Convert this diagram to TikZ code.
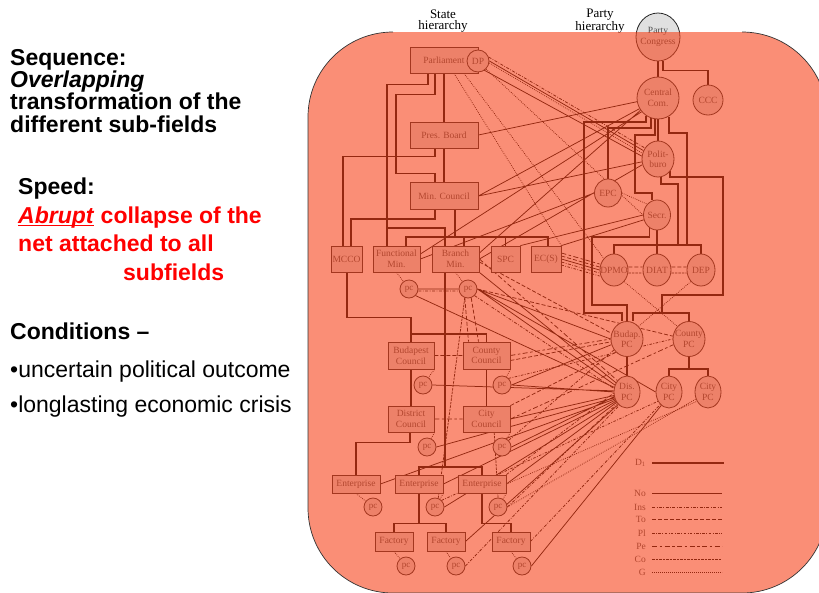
\documentclass[tikz,border=0pt]{standalone}
\usepackage{fontspec}
\setmainfont{Liberation Serif}
\setsansfont{Liberation Sans}
\usetikzlibrary{shapes.geometric,backgrounds}

\definecolor{salmon}{RGB}{247,67,27}
\definecolor{slidered}{RGB}{255,0,0}
\newcommand{\ulword}[1]{\setbox0\hbox{#1}\rlap{\color{slidered}\rule[-2.6pt]{\wd0}{1.1pt}}\box0\relax}

\tikzset{
  sbox/.style={draw=black!85, fill=black!12, line width=0.8pt, inner sep=0pt, font=\fontsize{9.5}{10.5}\selectfont, text=black!70, align=center},
  pnode/.style 2 args={ellipse, draw=black!85, fill=black!12, line width=0.8pt, inner sep=0pt, minimum width=#1, minimum height=#2},
  ptxt/.style={font=\fontsize{9.5}{10.5}\selectfont, text=black!70, align=center, inner sep=0pt},
  pcnode/.style={circle, draw=black!85, fill=black!12, line width=0.8pt, inner sep=0pt, minimum size=18pt, font=\fontsize{9}{9}\selectfont, text=black!70},
  tie/.style={line width=1.8pt, black},
  lno/.style={line width=0.75pt, black},
  lins/.style={line width=0.75pt, black, dash pattern=on 3pt off 1.5pt on 0.8pt off 1.5pt},
  lto/.style={line width=0.75pt, black, dash pattern=on 4pt off 2pt},
  lpl/.style={line width=0.75pt, black, dash pattern=on 2.5pt off 1.5pt on 0.8pt off 1.5pt},
  lpe/.style={line width=0.75pt, black, dash pattern=on 5pt off 2.5pt on 2.5pt off 2.5pt},
  lco/.style={line width=0.75pt, black, dash pattern=on 2.5pt off 1pt},
  lg/.style={line width=0.75pt, black, dash pattern=on 0.8pt off 1.2pt},
  lgd/.style={font=\fontsize{9.5}{10}\selectfont, text=black!70, anchor=east, inner sep=0pt},
  head/.style={font=\fontsize{13}{11.5}\selectfont, align=center, inner sep=0pt},
  slide/.style={anchor=base west, inner sep=0pt, align=left},
}

\begin{document}
\begin{tikzpicture}[x=1pt,y=-1pt]
\useasboundingbox (0,0) rectangle (819,592);

\node[slide, font=\sffamily\bfseries\fontsize{23}{22.3}\selectfont] (seq) at (10,132) {Sequence:\\\textit{Overlapping}\\transformation of the\\different sub-fields};
\node[slide, font=\sffamily\bfseries\fontsize{23}{28.5}\selectfont] (speed) at (18,280) {Speed:\\\textcolor{slidered}{\ulword{\textit{Abrupt}} collapse of the}\\\textcolor{slidered}{net attached to all}\\\hspace*{105pt}\textcolor{slidered}{subfields}};
\node[slide, font=\sffamily\bfseries\fontsize{23}{23}\selectfont] (cond) at (10,339) {Conditions --};
\node[slide, font=\sffamily\fontsize{23}{35}\selectfont] (bul) at (10,412) {•uncertain political outcome\\•longlasting economic crisis};

\node[head] (shead) at (443,21) {State\\hierarchy};
\node[head] (phead) at (600,21) {Party\\hierarchy};

\node[sbox, minimum width=68pt, minimum height=26pt] (parl) at (444,60) {Parliament};
\node[pcnode, minimum size=22pt, font=\fontsize{9.5}{9.5}\selectfont] (dp) at (478,61) {DP};
\node[sbox, minimum width=68pt, minimum height=26pt] (pres) at (444,135) {Pres. Board};
\node[sbox, minimum width=68pt, minimum height=27pt] (minc) at (444,196) {Min. Council};
\node[sbox, minimum width=31pt, minimum height=26pt] (mcco) at (346.5,259) {MCCO};
\node[sbox, minimum width=47pt, minimum height=26pt] (funcmin) at (396.5,259) {Functional\\Min.};
\node[sbox, minimum width=47pt, minimum height=26pt] (branchmin) at (455.5,259) {Branch\\Min.};
\node[sbox, minimum width=29pt, minimum height=26pt] (spc) at (505.5,259) {SPC};
\node[sbox, minimum width=30pt, minimum height=26pt] (ecs) at (546,259) {EC(S)};
\node[pcnode] (pcfunc) at (409,289) {pc};
\node[pcnode] (pcbranch) at (468,289) {pc};
\node[sbox, minimum width=46pt, minimum height=27pt] (budc) at (411,355.5) {Budapest\\Council};
\node[sbox, minimum width=47pt, minimum height=27pt] (countyc) at (486.5,355.5) {County\\Council};
\node[pcnode] (pcbud) at (423,385) {pc};
\node[pcnode] (pccounty) at (502,385) {pc};
\node[sbox, minimum width=46pt, minimum height=26pt] (distc) at (411,419) {District\\Council};
\node[sbox, minimum width=47pt, minimum height=26pt] (cityc) at (486.5,419) {City\\Council};
\node[pcnode] (pcdist) at (427,447) {pc};
\node[pcnode] (pccity) at (502,447) {pc};
\node[sbox, minimum width=48pt, minimum height=18pt] (ent1) at (356,484) {Enterprise};
\node[sbox, minimum width=48pt, minimum height=18pt] (ent2) at (419,484) {Enterprise};
\node[sbox, minimum width=48pt, minimum height=18pt] (ent3) at (482,484) {Enterprise};
\node[pcnode] (pcent1) at (373,507) {pc};
\node[pcnode] (pcent2) at (435,507) {pc};
\node[pcnode] (pcent3) at (498,507) {pc};
\node[sbox, minimum width=38pt, minimum height=19pt] (fac1) at (394,541.5) {Factory};
\node[sbox, minimum width=38pt, minimum height=19pt] (fac2) at (446,541.5) {Factory};
\node[sbox, minimum width=38pt, minimum height=19pt] (fac3) at (511,541.5) {Factory};
\node[pcnode] (pcfac1) at (406,566) {pc};
\node[pcnode] (pcfac2) at (456,566) {pc};
\node[pcnode] (pcfac3) at (522,566) {pc};

\node[pnode={44pt}{48pt}, label={[ptxt]center:{Party\\Congress}}] (congress) at (658,37) {};
\node[pnode={42pt}{42pt}, label={[ptxt]center:{Central\\Com.}}] (centcom) at (658,98) {};
\node[pnode={30pt}{30pt}, label={[ptxt]center:CCC}] (ccc) at (708,100) {};
\node[pnode={32pt}{36pt}, label={[ptxt]center:{Polit-\\buro}}] (polit) at (658,159) {};
\node[pnode={27pt}{28pt}, label={[ptxt]center:EPC}] (epc) at (608,193) {};
\node[pnode={27pt}{30pt}, label={[ptxt]center:Secr.}] (secr) at (657,215) {};
\node[pnode={28pt}{32pt}, label={[ptxt]center:DPMO}] (dpmo) at (614,270) {};
\node[pnode={28pt}{32pt}, label={[ptxt]center:DIAT}] (diat) at (657,270) {};
\node[pnode={28pt}{32pt}, label={[ptxt]center:DEP}] (dep) at (701,270) {};
\node[pnode={32pt}{35pt}, label={[ptxt]center:{Budap.\\PC}}] (budpc) at (627,339) {};
\node[pnode={32pt}{35pt}, label={[ptxt]center:{County\\PC}}] (countypc) at (689,339) {};
\node[pnode={26pt}{32pt}, label={[ptxt]center:{Dis.\\PC}}] (dispc) at (627,392) {};
\node[pnode={26pt}{32pt}, label={[ptxt]center:{City\\PC}}] (citypc1) at (669,392) {};
\node[pnode={26pt}{32pt}, label={[ptxt]center:{City\\PC}}] (citypc2) at (708,392) {};

\coordinate (sj1) at (387,228);
\coordinate (sj2) at (445,467);
\coordinate (sj4) at (445,334);
\coordinate (dj) at (657,245);
\coordinate (pj) at (662,313);

\begin{scope}[on background layer]
\draw[tie] ([xshift=-16pt]parl.south) -- ++(0,11) -| ([xshift=-9.5pt]funcmin.north);
\draw[tie] ([xshift=-9pt]parl.south) -- ++(0,21) -- ++(-39,0) -- ++(0,79) -| ([xshift=-9pt]minc.north);
\draw[tie] (parl.south) -- (pres.north) (pres.south) -- (minc.north);
\draw[tie] ([xshift=-9pt]pres.south) -- ++(0,8) -| ([xshift=-3.5pt]mcco.north);
\draw[tie] ([xshift=-9pt]minc.south) -- ++(0,9) -| ([xshift=4.5pt]mcco.north);
\draw[tie] ([xshift=11pt]minc.south) -- ++(0,27) coordinate (mj)
  (mj) -| ([xshift=9.5pt]funcmin.north) (mj) -| ([xshift=8.5pt]branchmin.north)
  (mj) -| (spc.north) (mj) -| ([xshift=2pt]ecs.north);
\draw[tie] (sj1) -| (sj2) (ent2.north) |- (sj2) -| (ent3.north);
\draw[tie] ([xshift=0.5pt]mcco.south) -- ++(0,45) -| (budc.north);
\draw[tie] (budc.north) |- (sj4) -| (countyc.north);
\draw[tie] (budc.south) -- (distc.north) (countyc.south) -- (cityc.north);
\draw[tie] ([xshift=-1pt]distc.south) -- ++(0,10) -| (ent1.north);
\draw[tie] (ent2.south) -- ++(0,30) coordinate (ej) (fac1.north) |- (ej) -| (fac2.north);
\draw[tie] (ent3.south) -- ++(0,30) -| (fac3.north);

\draw[tie] (congress.south) -- (centcom.north);
\draw[tie] ([xshift=5pt]congress.south) -- ++(0,9) -| (ccc.north);
\draw[tie] (centcom.235) |- (584,122) -- (584,313) -| ([xshift=-5pt]budpc.north);
\draw[tie] (centcom.250) |- (608,128) -- (epc.north);
\draw[tie] (centcom.262) |- (635,135) -- (635,193) -| ([xshift=-5pt]secr.north);
\draw[tie] (centcom.south) -- (polit.north);
\draw[tie] (centcom.300) |- (687,133) -- (687,245);
\draw[tie] (polit.280) |- (678,184) -- (678,245);
\draw[tie] (polit.315) |- (723,177) -- (723,295) -| (pj) ([xshift=6pt]budpc.north) |- (pj) -| (countypc.north);
\draw[tie] (secr.south) -- (dj) (dpmo.north) |- (dj) -| (dep.north) (dj) -- (diat.north);
\draw[tie] (secr.240) |- (592,237) -- (592,305) -| (budpc.north);
\draw[tie] (budpc.south) -- (dispc.north);
\draw[tie] (countypc.south) -- ++(0,12) coordinate (cj) (citypc1.north) |- (cj) -| (citypc2.north);

\draw[lno] (dp.east) -- (polit.150) ([yshift=-7pt]parl.east) -- (polit.170)
  (pres.east) -- (centcom.190) (minc.east) -- (centcom.210) (minc.east) -- (polit.190)
  ([yshift=5pt]funcmin.east) -- (centcom.220) (funcmin.east) -- (epc.west)
  (branchmin.east) -- (polit.200) ([yshift=6pt]branchmin.east) -- (centcom.215)
  (spc.north east) -- (secr.west) (ecs.north east) -- (secr.200) (ecs.east) -- (dpmo.west)
  (pcfunc.east) -- (pcbranch.west) (pcfunc.south east) -- (dispc.160)
  (pcbranch.east) -- (budpc.west) (pcbranch.east) -- (dispc.150) (pcbranch.east) -- (citypc1.west)
  (branchmin.south east) -- (dispc.140) (pccounty.east) -- (budpc.200) (pccounty.east) -- (dispc.west)
  (pcbud.east) -- (dispc.175) (cityc.east) -- (dispc.195) (pccity.east) -- (dispc.200)
  (pcdist.east) -- (dispc.205) (ent1.east) -- (dispc.210) (ent2.east) -- (dispc.215)
  (pcent2.east) -- (dispc.220) (ent3.east) -- (dispc.225) (fac2.east) -- (dispc.235)
  (pcfac3.east) -- (citypc1.240);
\draw[lins] (dp.20) -- (polit.140) ([yshift=-2pt]pcfunc.east) -- ([yshift=-2pt]pcbranch.west)
  ([yshift=-3pt]ecs.east) -- ([yshift=-3pt]dpmo.west) (pcbranch.south east) -- (dispc.165)
  (pcent3.east) -- (dispc.230) (fac3.east) -- (citypc1.235) (ent3.north east) -- (dispc.185)
  (pccity.north east) -- (budpc.220) (pcfac2.east) -- (dispc.240);
\draw[lto] (budc.east) -- (countyc.west) ([yshift=-5pt]countyc.east) -- (budpc.190)
  ([yshift=3pt]ecs.east) -- ([yshift=3pt]dpmo.west)
  ([yshift=3pt]dpmo.east) -- ([yshift=3pt]diat.west) ([yshift=3pt]diat.east) -- ([yshift=3pt]dep.west)
  (pcbranch.250) -- ([xshift=-18pt]countyc.north) (pcbranch.290) -- ([xshift=-8pt]countyc.north)
  ([yshift=-3pt]branchmin.east) -- (budpc.160) (pcbranch.east) -- (countypc.170)
  (cityc.north east) -- (budpc.230);
\draw[lpl] ([yshift=-6pt]ecs.east) -- ([yshift=-6pt]dpmo.west) (pccounty.north east) -- (countypc.west)
  (pcent2.north east) -- (citypc1.220);
\draw[lpe] (distc.east) -- (cityc.west) ([yshift=6pt]ecs.east) -- ([yshift=6pt]dpmo.west)
  (branchmin.east) -- (dispc.130) (cityc.east) -- (countypc.200) (countyc.east) -- (budpc.180);
\draw[lco] ([yshift=-3pt]dpmo.east) -- ([yshift=-3pt]diat.west) ([yshift=-3pt]diat.east) -- ([yshift=-3pt]dep.west)
  (pcbranch.250) -- (pcent2.70) (cityc.300) -- (pcent3.north);
\draw[lg] ([xshift=10pt]parl.south) -- (ecs.north east) ([xshift=20pt]parl.south) -- (dpmo.north west)
  (dp.south east) -- (secr.west) (dp.-10) -- (polit.160) (epc.east) -- (secr.north west)
  (dpmo.south east) -- (countypc.north west) (dep.south west) -- (budpc.north east)
  (ent3.east) -- (citypc2.220) (pcent3.east) -- (citypc2.210)
  (funcmin.south) -- (pcfunc) (branchmin.south) -- (pcbranch) (budc.south east) -- (pcbud)
  (countyc.south east) -- (pccounty) (distc.south east) -- (pcdist) (cityc.south east) -- (pccity)
  (ent1.south) -- (pcent1) (ent2.south east) -- (pcent2) (ent3.south east) -- (pcent3)
  (fac1.south) -- (pcfac1) (fac2.south) -- (pcfac2) (fac3.south) -- (pcfac3);
\end{scope}

\node[lgd] (ld) at (646,463) {D\textsubscript{1}};
\node[lgd] (lno) at (646,493) {No};
\node[lgd] (lins) at (646,507) {Ins};
\node[lgd] (lto) at (646,519) {To};
\node[lgd] (lpl) at (646,533) {Pl};
\node[lgd] (lpe) at (646,546) {Pe};
\node[lgd] (lco) at (646,559) {Co};
\node[lgd] (lg) at (646,572) {G};
\draw[tie] ([xshift=6pt]ld.east) -- ++(72,0);
\draw[lno] ([xshift=6pt]lno.east) -- ++(70,0);
\draw[lins] ([xshift=6pt]lins.east) -- ++(70,0);
\draw[lto] ([xshift=6pt]lto.east) -- ++(70,0);
\draw[lpl] ([xshift=6pt]lpl.east) -- ++(70,0);
\draw[lpe] ([xshift=6pt]lpe.east) -- ++(70,0);
\draw[lco] ([xshift=6pt]lco.east) -- ++(70,0);
\draw[lg] ([xshift=6pt]lg.east) -- ++(70,0);

\fill[salmon, fill opacity=0.6, rounded corners=85pt] (308,32) rectangle (827,593);
\draw[black!80, line width=0.7pt, rounded corners=85pt] (393,32) -- (308,32) -- (308,593) -- (827,593) -- (827,32) -- (742,32);
\end{tikzpicture}
\end{document}
